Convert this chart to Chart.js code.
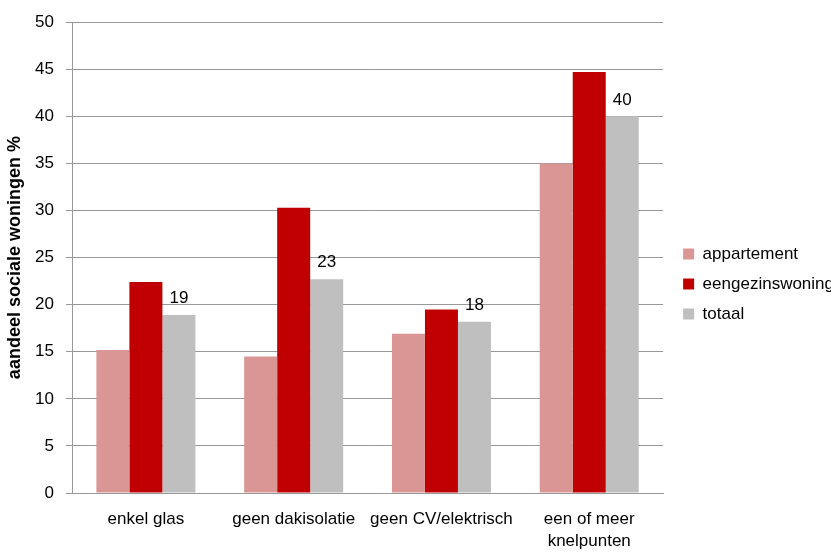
<!DOCTYPE html>
<html>
<head>
<meta charset="utf-8">
<script src="https://cdn.jsdelivr.net/npm/chart.js@4/dist/chart.umd.min.js"></script>
<style>
  html, body { margin: 0; padding: 0; background: #fff; }
  #wrap { width: 831px; height: 552px; }
</style>
</head>
<body>
<div id="wrap"><canvas id="chart" width="831" height="552"></canvas></div>
<script>
"use strict";

const categories = ["enkel glas", "geen dakisolatie", "geen CV/elektrisch", ["een of meer", "knelpunten"]];
const appartement = [15.2, 14.5, 16.9, 35.0];
const eengezinswoning = [22.4, 30.3, 19.5, 44.7];
const totaal = [18.9, 22.7, 18.2, 40.0];
const totaalLabels = ["19", "23", "18", "40"];

const font = "'Liberation Sans', Arial, sans-serif";
const gridColor = "#989898";

// numbers above the grey "totaal" bars
const valueLabels = {
  id: "valueLabels",
  afterDatasetsDraw(chart) {
    const ctx = chart.ctx;
    const meta = chart.getDatasetMeta(2);
    ctx.save();
    ctx.font = "17px " + font;
    ctx.fillStyle = "#000";
    ctx.textAlign = "center";
    ctx.textBaseline = "bottom";
    meta.data.forEach((bar, i) => {
      ctx.fillText(totaalLabels[i], bar.x, bar.y - 8);
    });
    ctx.restore();
  }
};

// push the legend a little further away from the plot
const legendShift = {
  id: "legendShift",
  afterLayout(chart) {
    chart.legend.left += 7;
    chart.legend.right += 7;
  }
};

const ctx = document.getElementById("chart").getContext("2d");
const chart = new Chart(ctx, {
  type: "bar",
  data: {
    labels: categories,
    datasets: [
      { label: "appartement", backgroundColor: "#d99694", data: appartement },
      { label: "eengezinswoning", backgroundColor: "#c00000", data: eengezinswoning },
      { label: "totaal", backgroundColor: "#bfbfbf", data: totaal }
    ]
  },
  options: {
    responsive: false,
    animation: false,
    devicePixelRatio: 1,
    layout: { padding: { top: 16, left: 0, right: -6, bottom: 0 } },
    datasets: {
      bar: { categoryPercentage: 0.67, barPercentage: 1.0 }
    },
    plugins: {
      legend: {
        position: "right",
        labels: {
          boxWidth: 11,
          boxHeight: 11,
          padding: 13,
          color: "#000",
          font: { family: font, size: 17 }
        }
      },
      tooltip: { enabled: false }
    },
    scales: {
      x: {
        grid: { display: false, drawTicks: false },
        border: { color: gridColor, width: 1 },
        ticks: {
          color: "#000",
          maxRotation: 0,
          autoSkip: false,
          padding: 15,
          font: { family: font, size: 17, lineHeight: 1.3 }
        },
        afterFit: axis => { axis.height = 59; }
      },
      y: {
        min: 0,
        max: 50,
        ticks: {
          stepSize: 5,
          color: "#000",
          padding: 12,
          font: { family: font, size: 17 }
        },
        grid: { color: gridColor, tickLength: 6, tickColor: gridColor },
        border: { color: gridColor, width: 1 },
        title: {
          display: true,
          text: "aandeel sociale woningen %",
          color: "#000",
          padding: { top: 4, bottom: 4 },
          font: { family: font, size: 18, weight: "bold" }
        },
        afterFit: axis => { axis.width = 72; }
      }
    }
  },
  plugins: [valueLabels, legendShift]
});
</script>
</body>
</html>
